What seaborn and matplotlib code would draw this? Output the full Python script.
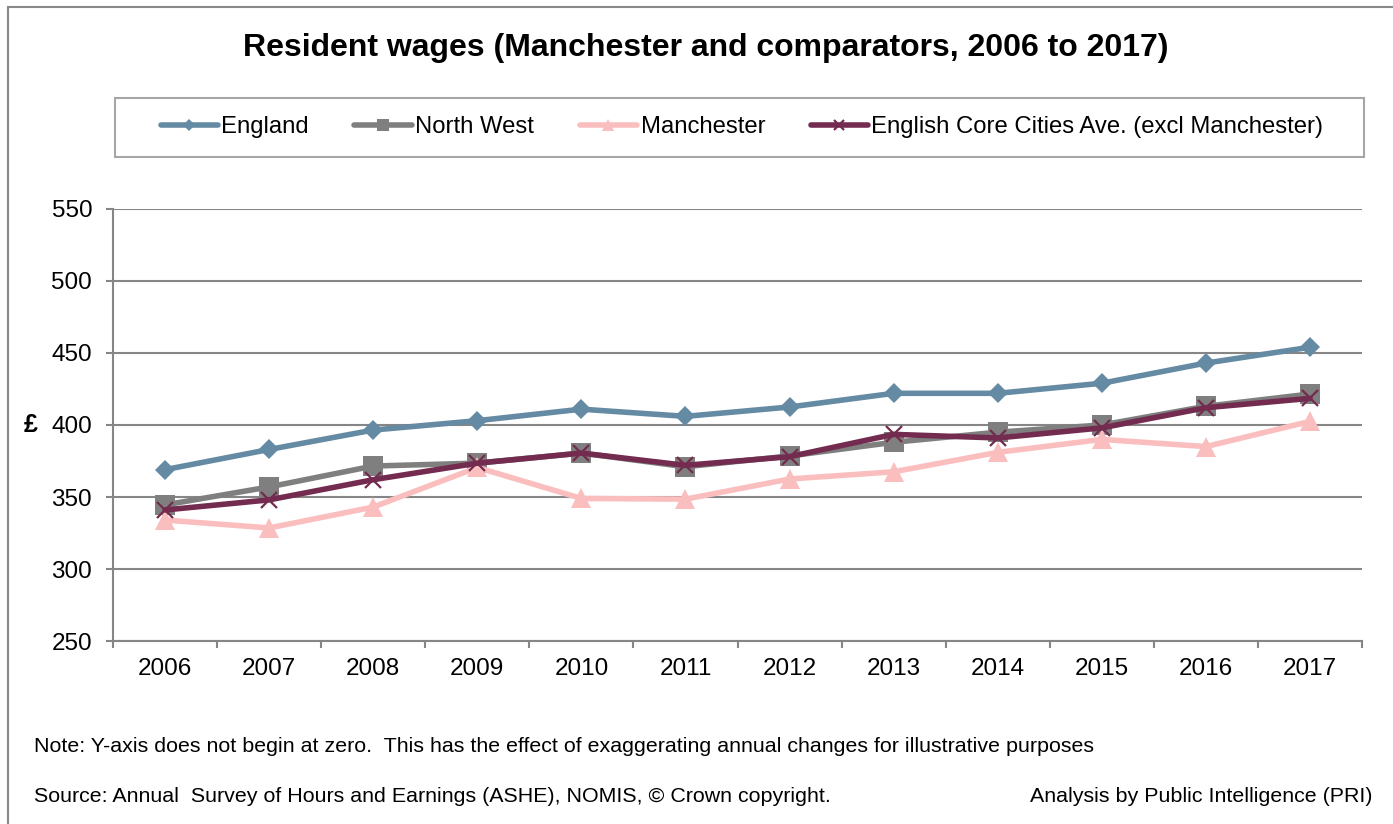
import matplotlib
matplotlib.use("Agg")
import matplotlib.pyplot as plt
import seaborn as sns
from matplotlib.patches import Rectangle

# Weekly resident wages (£), 2006-2017
years = list(range(2006, 2018))
england = [369, 383, 396.5, 403, 411, 406, 412.5, 422, 422, 429, 443, 454]
north_west = [344.5, 357, 371.5, 373.5, 380.5, 371, 378.5, 388, 395, 400, 413, 421.5]
manchester = [334, 328.5, 343, 370.5, 349, 348.5, 362.5, 367.5, 381, 390, 385, 402.5]
core_cities = [341, 348, 362, 373.5, 380.5, 372, 378, 393.5, 391, 398, 412, 418.5]

series_names = ["England", "North West", "Manchester",
                "English Core Cities Ave. (excl Manchester)"]
series_values = [england, north_west, manchester, core_cities]
y_ticks = [250, 300, 350, 400, 450, 500, 550]

colors = ["#658AA3", "#7F7F7F", "#FBBEBE", "#732B4F"]
markers = ["D", "s", "^", "x"]
marker_sizes = [10, 14, 14, 11]

sns.set_theme(style="white")
plt.rcParams["font.family"] = ["Liberation Sans", "DejaVu Sans"]
plt.rcParams["text.color"] = "black"
plt.rcParams["axes.labelcolor"] = "black"

W, H = 1393, 824
fig = plt.figure(figsize=(W / 100, H / 100), dpi=100)
ax = fig.add_axes([113 / W, 1 - 641 / H, (1362 - 113) / W, (641 - 209) / H])

grey = "#868686"

for i, (name, vals) in enumerate(zip(series_names, series_values)):
    c = colors[i]
    kw = dict(marker=markers[i], markersize=marker_sizes[i], color=c,
              linewidth=4, label=name, zorder=3 + i)
    if markers[i] == "x":
        kw.update(markeredgewidth=1.6, markeredgecolor=c)
    else:
        kw.update(markeredgewidth=0, markerfacecolor=c)
    sns.lineplot(x=years, y=vals, ax=ax, **kw)

ax.set_xlim(years[0] - 0.5, years[-1] + 0.5)
ax.set_ylim(y_ticks[0], y_ticks[-1])
ax.set_yticks(y_ticks)
ax.set_xticks(years)
ax.set_xticklabels([str(y) for y in years])
ax.set_xticks([y - 0.5 for y in years] + [years[-1] + 0.5], minor=True)

ax.tick_params(axis="x", which="major", length=0, pad=12, labelsize=17.5,
               labelcolor="black")
ax.tick_params(axis="x", which="minor", length=5, width=1.5, color=grey,
               direction="out", bottom=True)
ax.tick_params(axis="y", length=5, width=1.5, color=grey, direction="out",
               left=True, pad=10, labelsize=17.5, labelcolor="black")

ax.grid(axis="y", color=grey, linewidth=1.5)
ax.grid(axis="x", visible=False)
ax.set_axisbelow(True)
for side in ["top", "right"]:
    ax.spines[side].set_visible(False)
for side in ["left", "bottom"]:
    ax.spines[side].set_color(grey)
    ax.spines[side].set_linewidth(1.5)
ax.set_xlabel("")
ax.set_ylabel("")

# Legend in a framed strip above the plot
handles, labels = ax.get_legend_handles_labels()
if ax.get_legend() is not None:
    ax.get_legend().remove()
leg = fig.legend(handles, labels, loc="center",
                 bbox_to_anchor=(742 / W, 1 - 127 / H), ncol=4, frameon=False,
                 fontsize=17.2, handlelength=2.4, handletextpad=0.15,
                 columnspacing=1.9)
for h in leg.legend_handles:
    h.set_markersize(h.get_markersize() * 0.6)
fig.patches.append(Rectangle((115 / W, 1 - 157 / H), (1364 - 115) / W, 59 / H,
                             transform=fig.transFigure, fill=False,
                             edgecolor="#A6A6A6", linewidth=1.5))

# Outer chart frame
fig.patches.append(Rectangle((8 / W, -0.1), 1.2, 1.1 - 7 / H,
                             transform=fig.transFigure, fill=False,
                             edgecolor="#888888", linewidth=1.5))

fig.text(706 / W, 1 - 48 / H,
         "Resident wages (Manchester and comparators, 2006 to 2017)",
         fontsize=23, fontweight="bold", ha="center", va="center")
fig.text(31 / W, 1 - 425 / H, "£", fontsize=18, fontweight="bold",
         ha="center", va="center")

fig.text(34 / W, 1 - 746 / H,
         "Note: Y-axis does not begin at zero.  This has the effect of "
         "exaggerating annual changes for illustrative purposes",
         fontsize=15.4, ha="left", va="center")
fig.text(34 / W, 1 - 796 / H,
         "Source: Annual  Survey of Hours and Earnings (ASHE), NOMIS, "
         "© Crown copyright.",
         fontsize=15.4, ha="left", va="center")
fig.text(1372 / W, 1 - 796 / H, "Analysis by Public Intelligence (PRI)",
         fontsize=15.4, ha="right", va="center")

fig.savefig("out.png", dpi=100)
